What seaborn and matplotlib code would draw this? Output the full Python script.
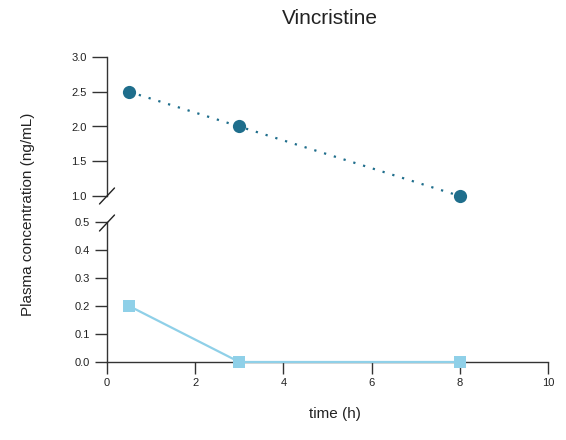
import matplotlib
matplotlib.use("Agg")
import matplotlib.pyplot as plt
import seaborn as sns
import pandas as pd

# ---- data ----
time_h = [0.5, 3, 8]
conc_high = [2.5, 2.0, 1.0]
conc_low = [0.2, 0.0, 0.0]
title = "Vincristine"
xlabel = "time (h)"
ylabel = "Plasma concentration (ng/mL)"
x_ticks = [0, 2, 4, 6, 8, 10]
top_ticks = [1.0, 1.5, 2.0, 2.5, 3.0]
bottom_ticks = [0.0, 0.1, 0.2, 0.3, 0.4, 0.5]

dark = "#1f6e8c"
light = "#8fd0e8"
axis_col = "#333333"

sns.set_theme(style="ticks")
plt.rcParams['font.family'] = ['Liberation Sans', 'DejaVu Sans']

W, H = 566, 440
fig = plt.figure(figsize=(W / 100, H / 100), dpi=100)
L, R = 107, 548
ax_top = fig.add_axes([L / W, 1 - 196 / H, (R - L) / W, (196 - 57) / H])
ax_bot = fig.add_axes([L / W, 1 - 362 / H, (R - L) / W, (362 - 222) / H])

df_high = pd.DataFrame({"time": time_h, "conc": conc_high})
df_low = pd.DataFrame({"time": time_h, "conc": conc_low})

sns.lineplot(data=df_high, x="time", y="conc", ax=ax_top, color=dark,
             marker="o", markersize=9.5, markeredgewidth=0,
             linestyle=(0, (1, 3.6)), linewidth=1.6, zorder=4)
sns.lineplot(data=df_low, x="time", y="conc", ax=ax_bot, color=light,
             marker="s", markersize=9.2, markeredgewidth=0,
             linewidth=1.6, zorder=4)
for ax in (ax_top, ax_bot):
    for ln in ax.lines:
        ln.set_clip_on(False)

ax_top.set_xlim(0, 10)
ax_bot.set_xlim(0, 10)
ax_top.set_ylim(1.0, 3.0)
ax_bot.set_ylim(0.0, 0.5)
ax_top.set_yticks(top_ticks)
ax_top.set_yticklabels([f"{v:.1f}" for v in top_ticks])
ax_bot.set_yticks(bottom_ticks)
ax_bot.set_yticklabels([f"{v:.1f}" for v in bottom_ticks])
ax_bot.set_xticks(x_ticks)
ax_bot.set_xticklabels([str(v) for v in x_ticks])
ax_top.set_xticks([])

for ax in (ax_top, ax_bot):
    ax.set_xlabel("")
    ax.set_ylabel("")
    ax.set_facecolor("none")
    ax.spines["right"].set_visible(False)
    ax.spines["top"].set_visible(False)
    for s in ("left", "bottom"):
        ax.spines[s].set_color(axis_col)
        ax.spines[s].set_linewidth(1.0)
ax_top.spines["bottom"].set_visible(False)

ax_top.tick_params(axis="y", length=11, width=1, color=axis_col,
                   labelsize=8, labelcolor="#222222", pad=3.5)
ax_bot.tick_params(axis="y", length=8.5, width=1, color=axis_col,
                   labelsize=8, labelcolor="#222222", pad=3.5)
ax_bot.tick_params(axis="x", length=8.5, width=1, color=axis_col,
                   labelsize=8, labelcolor="#222222", pad=3)

# break marks on the y axis
def px2fig(x, y):
    return x / W, 1 - y / H

for cy in (196, 223):
    x0, y0 = px2fig(L - 7.5, cy + 8)
    x1, y1 = px2fig(L + 7.5, cy - 8)
    fig.add_artist(plt.Line2D([x0, x1], [y0, y1], color="#222222",
                              linewidth=1.0, transform=fig.transFigure))

fig.text(330 / W, 1 - 19 / H, title, ha="center", va="center",
         fontsize=15, color="#222222")
fig.text(335 / W, 1 - 414 / H, xlabel, ha="center", va="center",
         fontsize=11, color="#222222")
fig.text(28 / W, 1 - 214 / H, ylabel, ha="center", va="center",
         rotation=90, fontsize=11, color="#222222")

fig.savefig("out.png", dpi=100)
